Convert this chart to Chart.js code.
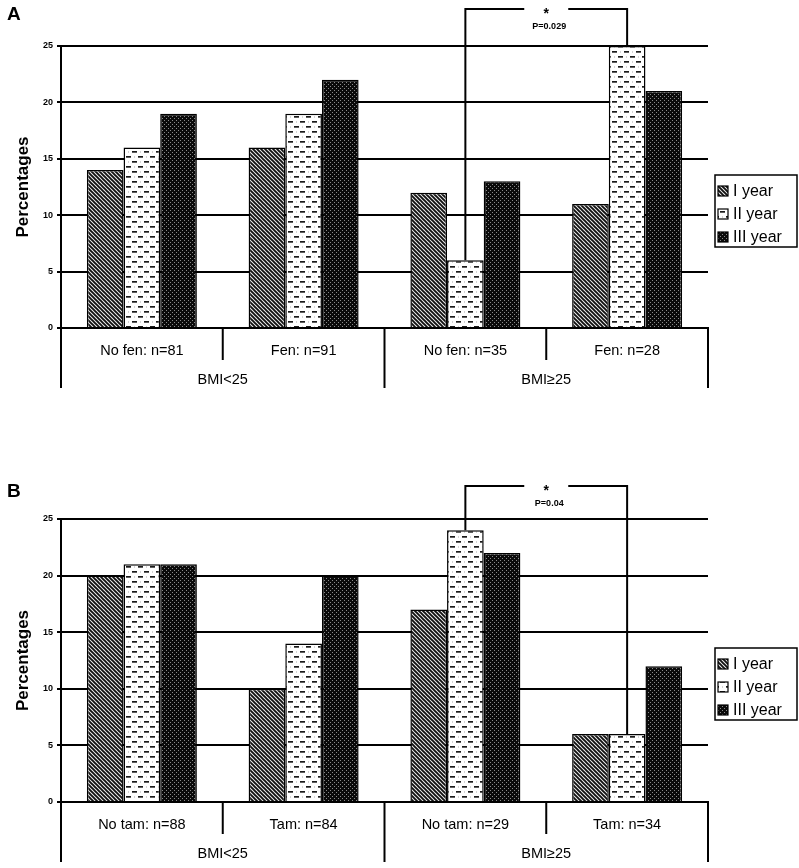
<!DOCTYPE html>
<html><head><meta charset="utf-8">
<script src="https://cdn.jsdelivr.net/npm/chart.js@4.4.0/dist/chart.umd.min.js"></script>
<style>
body{margin:0;background:#fff;width:799px;height:868px;position:relative;overflow:hidden;font-family:"Liberation Sans",Arial,sans-serif;}
.panel{position:absolute;left:0;width:799px;}
.letter{position:absolute;left:7px;font:bold 19px "Liberation Sans",Arial,sans-serif;color:#000;}
</style></head><body>
<div class="panel" style="top:0;height:400px"><canvas id="ca" width="799" height="400"></canvas></div>
<div class="panel" style="top:440px;height:428px"><canvas id="cb" width="799" height="428"></canvas></div>
<div class="letter" style="top:3px">A</div>
<div class="letter" style="top:480px">B</div>
<script>
// ---- data ----
const seriesNames = ['I year', 'II year', 'III year'];
const yTicks = [0, 5, 10, 15, 20, 25];
const yTitle = 'Percentages';

const catsA = ['No fen: n=81', 'Fen: n=91', 'No fen: n=35', 'Fen: n=28'];
const groupsA = ['BMI<25', 'BMI≥25'];
const aYear1 = [14, 16, 12, 11];
const aYear2 = [16, 19, 6, 25];
const aYear3 = [19, 22, 13, 21];
const starA = '*';
const pA = 'P=0.029';

const catsB = ['No tam: n=88', 'Tam: n=84', 'No tam: n=29', 'Tam: n=34'];
const groupsB = ['BMI<25', 'BMI≥25'];
const bYear1 = [20, 10, 17, 6];
const bYear2 = [21, 14, 24, 6];
const bYear3 = [21, 20, 22, 12];
const starB = '*';
const pB = 'P=0.04';

// ---- patterns ----
function makePattern(kind) {
  const c = document.createElement('canvas');
  const x = c.getContext('2d');
  if (kind === 'diag') {
    c.width = 4; c.height = 4;
    x.fillStyle = '#eee'; x.fillRect(0, 0, 4, 4);
    x.strokeStyle = '#111'; x.lineWidth = 1.9;
    x.beginPath();
    x.moveTo(-1, -1); x.lineTo(5, 5);
    x.moveTo(3, -1); x.lineTo(5, 1);
    x.moveTo(-1, 3); x.lineTo(1, 5);
    x.stroke();
  } else if (kind === 'dash') {
    c.width = 12; c.height = 10;
    x.fillStyle = '#fff'; x.fillRect(0, 0, 12, 10);
    x.fillStyle = '#1a1a1a';
    x.fillRect(0, 1, 5, 1.7);
    x.fillRect(6, 6, 5, 1.7);
    x.fillStyle = '#aaa';
    x.fillRect(8, 1.5, 1, 1);
    x.fillRect(2, 6.5, 1, 1);
  } else {
    c.width = 4; c.height = 4;
    x.fillStyle = '#0a0a0a'; x.fillRect(0, 0, 4, 4);
    x.fillStyle = '#8a8a8a';
    x.fillRect(0, 0, 1, 1);
    x.fillRect(2, 2, 1, 1);
  }
  return x.createPattern(c, 'repeat');
}
const fills = [makePattern('diag'), makePattern('dash'), makePattern('dots')];

Chart.defaults.font.family = '"Liberation Sans", Arial, sans-serif';
Chart.defaults.color = '#000';
Chart.defaults.animation = false;

const decor = {
  id: 'decor',
  afterDatasetsDraw(chart, args, o) {
    const ctx = chart.ctx;
    const ca = chart.chartArea;
    const n = chart.data.labels.length;
    const w = (ca.right - ca.left) / n;
    ctx.save();
    ctx.strokeStyle = '#000';
    ctx.lineWidth = 2;
    // separators
    for (let i = 0; i <= n; i++) {
      const bx = ca.left + i * w;
      const long = (i % 2 === 0);
      ctx.beginPath();
      ctx.moveTo(bx, ca.bottom);
      ctx.lineTo(bx, ca.bottom + (long ? 60 : 32));
      ctx.stroke();
    }
    // group labels
    ctx.fillStyle = '#000';
    ctx.font = '14.5px "Liberation Sans", Arial, sans-serif';
    ctx.textAlign = 'center';
    ctx.textBaseline = 'middle';
    o.groups.forEach((g, gi) => {
      const cx = ca.left + (gi * 2 + 1) * w;
      ctx.fillText(g, cx, ca.bottom + 52);
    });
    // bracket
    const b = o.bracket;
    const m1 = chart.getDatasetMeta(b.from[0]).data[b.from[1]];
    const m2 = chart.getDatasetMeta(b.to[0]).data[b.to[1]];
    const yb = b.y;
    const xm = (m1.x + m2.x) / 2;
    ctx.beginPath();
    ctx.moveTo(m1.x, m1.y); ctx.lineTo(m1.x, yb); ctx.lineTo(xm - 22, yb);
    ctx.moveTo(xm + 22, yb); ctx.lineTo(m2.x, yb); ctx.lineTo(m2.x, m2.y);
    ctx.stroke();
    ctx.textAlign = 'center';
    ctx.textBaseline = 'alphabetic';
    ctx.font = 'bold 14px "Liberation Sans", Arial, sans-serif';
    ctx.fillText(b.star, xm, yb + 9);
    ctx.textBaseline = 'middle';
    ctx.font = 'bold 9px "Liberation Sans", Arial, sans-serif';
    ctx.fillText(b.p, xm + 3, yb + 18);
    // legend
    const lx = ca.right + 7, ly = ca.top + 129, lw = 82, lh = 72;
    ctx.lineWidth = 1.5;
    ctx.strokeRect(lx, ly, lw, lh);
    ctx.font = '16px "Liberation Sans", Arial, sans-serif';
    ctx.textAlign = 'left';
    ctx.textBaseline = 'middle';
    chart.data.datasets.forEach((ds, i) => {
      const ry = ly + 16 + i * 23;
      ctx.fillStyle = ds.backgroundColor;
      ctx.fillRect(lx + 3, ry - 5, 10, 10);
      ctx.lineWidth = 1.2;
      ctx.strokeRect(lx + 3, ry - 5, 10, 10);
      ctx.fillStyle = '#000';
      ctx.fillText(ds.label, lx + 18, ry + 1);
    });
    ctx.restore();
  }
};

function build(id, cats, groups, s1, s2, s3, star, p, topPad, xH, bracketY) {
  const series = [s1, s2, s3];
  new Chart(document.getElementById(id), {
    type: 'bar',
    data: {
      labels: cats,
      datasets: series.map((d, i) => ({
        label: seriesNames[i],
        data: d,
        backgroundColor: fills[i],
        borderColor: '#000',
        borderWidth: 1.5,
        categoryPercentage: 0.68,
        barPercentage: 1.0
      }))
    },
    options: {
      responsive: false,
      layout: { padding: { top: topPad, right: 91, left: 0, bottom: 0 } },
      plugins: {
        legend: { display: false },
        tooltip: { enabled: false },
        decor: { groups: groups, bracket: { from: [1, 2], to: [1, 3], y: bracketY, star: star, p: p } }
      },
      scales: {
        x: {
          grid: { display: false, drawTicks: false },
          border: { display: true, color: '#000', width: 2 },
          ticks: { padding: 14.5, maxRotation: 0, autoSkip: false, font: { size: 14.5 }, color: '#000' },
          afterFit(s) { s.height = xH; }
        },
        y: {
          min: 0, max: 25,
          afterBuildTicks(s) { s.ticks = yTicks.map(v => ({ value: v })); },
          grid: { color: '#000', lineWidth: 2, tickLength: 4, drawTicks: true },
          border: { display: true, color: '#000', width: 2 },
          ticks: { padding: 4, font: { size: 9, weight: 'bold' }, color: '#000' },
          title: { display: true, text: yTitle, font: { size: 17, weight: 'bold' }, color: '#000', padding: { top: 13, bottom: 0 } },
          afterFit(s) { s.width = 61; }
        }
      }
    },
    plugins: [decor]
  });
}

build('ca', catsA, groupsA, aYear1, aYear2, aYear3, starA, pA, 46, 72, 9);
build('cb', catsB, groupsB, bYear1, bYear2, bYear3, starB, pB, 79, 66, 46);
</script>
</body></html>
